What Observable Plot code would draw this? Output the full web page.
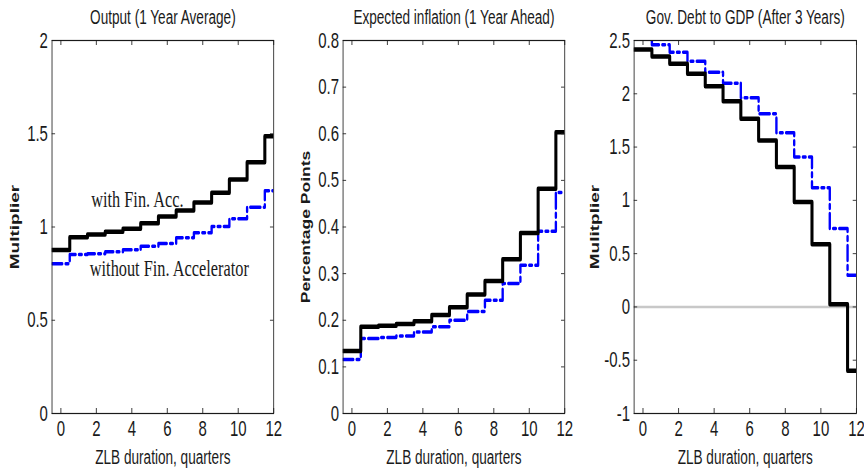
<!DOCTYPE html>
<html>
<head>
<meta charset="utf-8">
<script src="https://cdn.jsdelivr.net/npm/d3@7"></script>
<script src="https://cdn.jsdelivr.net/npm/@observablehq/plot@0.6"></script>
<style>
  html, body { margin: 0; padding: 0; background: #fff; overflow: hidden; }
  #wrap { position: relative; width: 1271px; height: 468px; transform: scaleX(0.68); transform-origin: 0 0; }
  #wrap > div { position: absolute; top: 0; }
</style>
</head>
<body>
<div id="wrap"></div>
<script>
// ---- data ----
const quarters = [0, 1, 2, 3, 4, 5, 6, 7, 8, 9, 10, 11, 12];
const xTicks = [0, 2, 4, 6, 8, 10, 12];

const outputWithFA    = [0.877, 0.945, 0.960, 0.975, 0.990, 1.020, 1.056, 1.088, 1.131, 1.183, 1.255, 1.347, 1.487];
const outputWithoutFA = [0.803, 0.853, 0.857, 0.867, 0.878, 0.897, 0.912, 0.942, 0.969, 1.003, 1.044, 1.106, 1.194];

const inflationWithFA    = [0.134, 0.186, 0.188, 0.192, 0.198, 0.211, 0.228, 0.255, 0.284, 0.331, 0.387, 0.482, 0.603];
const inflationWithoutFA = [0.116, 0.161, 0.163, 0.166, 0.175, 0.186, 0.200, 0.219, 0.243, 0.279, 0.318, 0.391, 0.474];

const debtWithFA    = [2.415, 2.350, 2.281, 2.187, 2.071, 1.931, 1.766, 1.562, 1.312, 0.984, 0.588, 0.025, -0.600];
const debtWithoutFA = [2.530, 2.460, 2.390, 2.306, 2.203, 2.100, 1.963, 1.812, 1.634, 1.406, 1.119, 0.735, 0.297];

const outputTicks = [0, 0.5, 1, 1.5, 2];
const inflationTicks = [0, 0.1, 0.2, 0.3, 0.4, 0.5, 0.6, 0.7, 0.8];
const debtTicks = [-1, -0.5, 0, 0.5, 1, 1.5, 2, 2.5];

const titles = ["Output (1 Year Average)", "Expected inflation (1 Year Ahead)", "Gov. Debt to GDP (After 3 Years)"];
const yLabels = ["Multiplier", "Percentage Points", "Mulitplier"];
const xLabel = "ZLB duration, quarters";
const annotations = [
  {text: "with Fin. Acc.", x: 1.71, y: 1.151},
  {text: "without Fin. Accelerator", x: 1.63, y: 0.776}
];

// ---- helpers ----
function steps(vals) {
  const pts = quarters.map((q, i) => ({x: q - 0.5, y: vals[i]}));
  pts.push({x: quarters[quarters.length - 1], y: vals[vals.length - 1]});
  return pts;
}

const H = 468, MT = 40, MB = 55;
const INK = "#1a1a1a";

function panel(cfg) {
  const plotW = cfg.width - cfg.marginLeft - cfg.marginRight;
  const plotH = H - MT - MB;
  const marks = [];
  if (cfg.zeroLine) marks.push(Plot.ruleY([0], {stroke: "#c8c8c8", strokeWidth: 2.5}));
  marks.push(
    Plot.line(steps(cfg.without), {x: "x", y: "y", curve: "step-after", stroke: "#0000ff", strokeWidth: 3.5, strokeDasharray: "15,5,4,5", clip: true}),
    Plot.line(steps(cfg.with), {x: "x", y: "y", curve: "step-after", stroke: "#000", strokeWidth: 4.5, clip: true}),
    Plot.frame({stroke: INK, strokeWidth: 1.2}),
    Plot.axisY(cfg.yTicks, {tickSize: 0, tickPadding: 6, fontSize: 22, label: null, tickFormat: d => String(d), fill: INK}),
    Plot.tickY(cfg.yTicks, {y: d => d, insetRight: plotW - 5, stroke: INK}),
    Plot.tickY(cfg.yTicks, {y: d => d, insetLeft: plotW - 5, stroke: INK}),
    Plot.axisX(xTicks, {tickSize: 0, tickPadding: 7, fontSize: 22, label: null, tickFormat: d => String(d), fill: INK}),
    Plot.tickX(xTicks, {x: d => d, insetTop: plotH - 5, stroke: INK}),
    Plot.tickX(xTicks, {x: d => d, insetBottom: plotH - 5, stroke: INK}),
    Plot.text([cfg.title], {text: d => d, frameAnchor: "top", dy: -23, fontSize: 20, fill: INK, lineAnchor: "middle"}),
    Plot.text([xLabel], {text: d => d, frameAnchor: "bottom", dy: 44, fontSize: 20, fill: INK, lineAnchor: "middle"}),
    Plot.text([cfg.ylabel], {text: d => d, frameAnchor: "left", dx: cfg.ylabelDx, rotate: -90, fontSize: cfg.ylabelSize, fontWeight: "bold", fill: INK, lineAnchor: "middle", textAnchor: "middle"})
  );
  if (cfg.notes) {
    marks.push(Plot.text(cfg.notes, {x: "x", y: "y", text: "text", textAnchor: "start", lineAnchor: "middle", fontFamily: "Liberation Serif, Times New Roman, serif", fontSize: 24, fill: INK}));
  }
  const svg = Plot.plot({
    width: cfg.width, height: H,
    marginLeft: cfg.marginLeft, marginRight: cfg.marginRight, marginTop: MT, marginBottom: MB,
    x: {domain: [-0.5, 12]},
    y: {domain: cfg.yDomain},
    style: {background: "transparent", overflow: "visible", fontFamily: "Liberation Sans, Arial, sans-serif", color: INK},
    marks
  });
  const div = document.createElement("div");
  div.style.left = cfg.left + "px";
  div.style.width = cfg.width + "px";
  div.appendChild(svg);
  document.getElementById("wrap").appendChild(div);
}

panel({left: 0, width: 414, marginLeft: 76, marginRight: 12, yDomain: [0, 2], yTicks: outputTicks,
  with: outputWithFA, without: outputWithoutFA, title: titles[0], ylabel: yLabels[0], ylabelSize: 19, ylabelDx: -54, notes: annotations});
panel({left: 420, width: 420, marginLeft: 84, marginRight: 10, yDomain: [0, 0.8], yTicks: inflationTicks,
  with: inflationWithFA, without: inflationWithoutFA, title: titles[1], ylabel: yLabels[1], ylabelSize: 17.5, ylabelDx: -54});
panel({left: 846, width: 424, marginLeft: 86, marginRight: 11, yDomain: [-1, 2.5], yTicks: debtTicks,
  with: debtWithFA, without: debtWithoutFA, title: titles[2], ylabel: yLabels[2], ylabelSize: 19, ylabelDx: -58, zeroLine: true});
</script>
</body>
</html>
